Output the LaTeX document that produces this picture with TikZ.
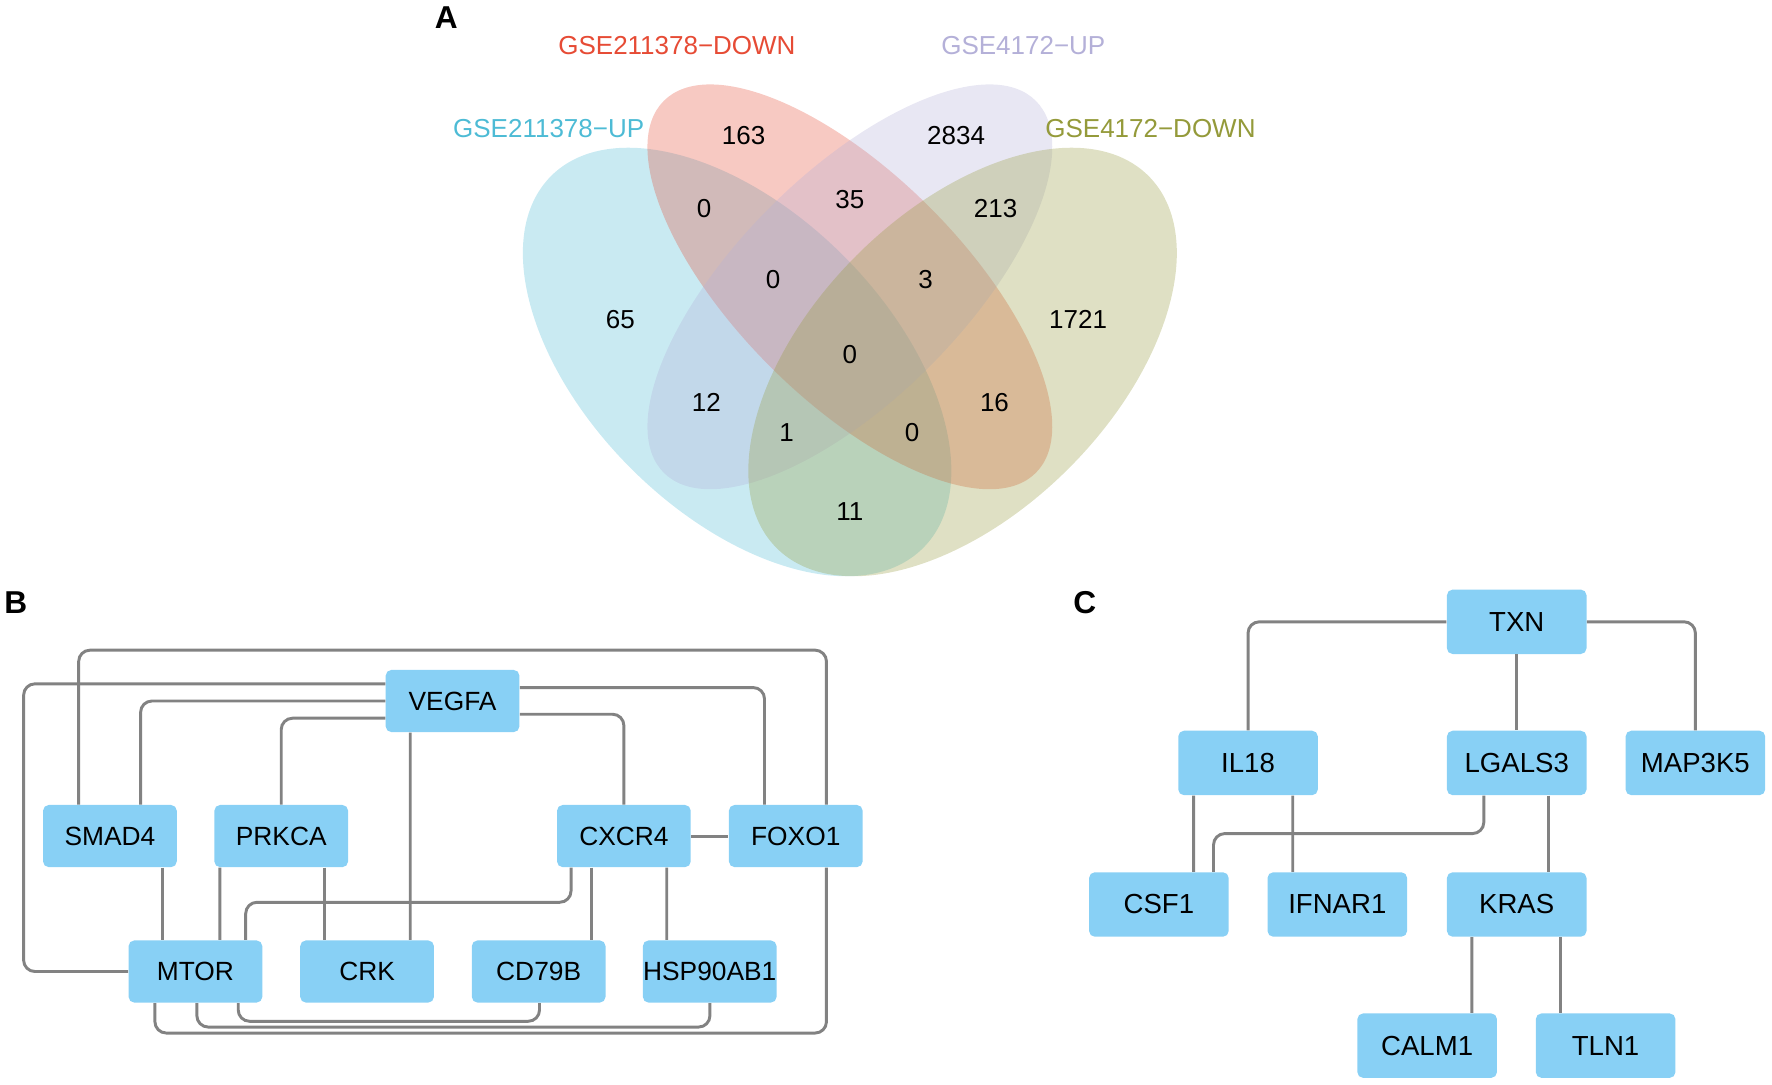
\documentclass[tikz,border=0pt]{standalone}
\usepackage{fontspec}
\setmainfont{Liberation Sans}
\usetikzlibrary{calc}
\definecolor{vblue}{HTML}{4DBBD5}
\definecolor{vred}{HTML}{E64B35}
\definecolor{vlav}{HTML}{B4B0D8}
\definecolor{volive}{HTML}{949A3A}
\definecolor{nodeblue}{RGB}{136,208,245}
\definecolor{edgegray}{RGB}{130,130,130}
\tikzset{
  vset/.style={fill opacity=0.3},
  vnum/.style={font=\fontsize{11.5}{13}\selectfont, text=black, inner sep=0pt},
  vlab/.style={font=\fontsize{11.5}{13}\selectfont, inner sep=0pt},
  panel/.style={font=\fontsize{14}{16}\selectfont\bfseries, inner sep=0pt},
  bnode/.style={rectangle, rounded corners=2.5pt, fill=nodeblue, minimum width=59.15pt, minimum height=27.5pt, inner sep=0pt, font=\fontsize{11.65}{13}\selectfont},
  cnode/.style={rectangle, rounded corners=2.5pt, fill=nodeblue, minimum width=61.75pt, minimum height=28.5pt, inner sep=0pt, font=\fontsize{12.2}{14}\selectfont},
  edge/.style={draw=edgegray, line width=1.3pt, rounded corners=5pt},
}
\begin{document}
\begin{tikzpicture}[x=0.5pt,y=-0.5pt]
\useasboundingbox (0,0) rectangle (1568,960);

% ---------- Panel A: Venn ----------
\fill[vblue, vset, rotate around={-45:(652.25,320.3)}] (652.25,320.3) ellipse [x radius=232.75, y radius=133];
\fill[vred, vset, rotate around={-45:(752,253.8)}] (752,253.8) ellipse [x radius=232.75, y radius=99.75];
\fill[vlav, vset, rotate around={45:(752,253.8)}] (752,253.8) ellipse [x radius=232.75, y radius=99.75];
\fill[volive, vset, rotate around={45:(851.75,320.3)}] (851.75,320.3) ellipse [x radius=232.75, y radius=133];

\node[panel] (labA) at (395,16) {A};
\node[vlab, text=vred] (l1) at (599,40.5) {GSE211378−DOWN};
\node[vlab, text=vlav] (l2) at (905.5,40.5) {GSE4172−UP};
\node[vlab, text=vblue] (l3) at (485.5,113.5) {GSE211378−UP};
\node[vlab, text=volive] (l4) at (1018,113.5) {GSE4172−DOWN};

\node[vnum] (n1) at (658,120.3) {163};
\node[vnum] (n2) at (846,120.3) {2834};
\node[vnum] (n3) at (623,184.7) {0};
\node[vnum] (n4) at (752,176.3) {35};
\node[vnum] (n5) at (881,184.7) {213};
\node[vnum] (n6) at (684,247.5) {0};
\node[vnum] (n7) at (819,247.5) {3};
\node[vnum] (n8) at (549,283) {65};
\node[vnum] (n9) at (954,283) {1721};
\node[vnum] (n10) at (752,313.6) {0};
\node[vnum] (n11) at (625,356) {12};
\node[vnum] (n12) at (880,356) {16};
\node[vnum] (n13) at (696,383) {1};
\node[vnum] (n14) at (807,383) {0};
\node[vnum] (n15) at (752,452.5) {11};

% ---------- Panel B ----------
\node[panel] (labB) at (14,533) {B};
\node[bnode] (vegfa) at (400.45,620.3) {VEGFA};
\node[bnode] (smad4) at (97.25,739.8) {SMAD4};
\node[bnode] (prkca) at (248.85,739.8) {PRKCA};
\node[bnode] (cxcr4) at (552.05,739.8) {CXCR4};
\node[bnode] (foxo1) at (704.15,739.8) {FOXO1};
\node[bnode] (mtor) at (172.95,859.65) {MTOR};
\node[bnode] (crk) at (324.8,859.65) {CRK};
\node[bnode] (cd79b) at (476.65,859.65) {CD79B};
\node[bnode] (hsp) at (628,859.65) {HSP90AB1};

\draw[edge] ($(smad4.north)+(-27.65,0)$) |- ($(foxo1.north)+(27.15,-136.6)$) -- ($(foxo1.north)+(27.15,0)$);
\draw[edge] ($(vegfa.west)+(0,-15.2)$) -| ($(mtor.west)+(-92.5,0)$) -- (mtor.west);
\draw[edge] (vegfa.west) -| ($(smad4.north)+(27.15,0)$);
\draw[edge] ($(vegfa.west)+(0,15.2)$) -| (prkca.north);
\draw[edge] ($(vegfa.south)+(-37.45,0)$) -- ($(crk.north)+(38.2,0)$);
\draw[edge] ($(vegfa.east)+(0,-11.9)$) -| ($(foxo1.north)+(-27.65,0)$);
\draw[edge] ($(vegfa.east)+(0,11.7)$) -| (cxcr4.north);
\draw[edge] (cxcr4.east) -- (foxo1.west);
\draw[edge] ($(smad4.south)+(46.45,0)$) -- ($(mtor.north)+(-29.25,0)$);
\draw[edge] ($(prkca.south)+(-54.35,0)$) -- ($(mtor.north)+(21.55,0)$);
\draw[edge] ($(prkca.south)+(38.65,0)$) -- ($(crk.north)+(-37.3,0)$);
\draw[edge] ($(cxcr4.south)+(-46.75,0)$) |- ($(mtor.north)+(44.45,-33.35)$) -- ($(mtor.north)+(44.45,0)$);
\draw[edge] ($(cxcr4.south)+(-29.05,0)$) -- ($(cd79b.north)+(46.35,0)$);
\draw[edge] ($(cxcr4.south)+(37.95,0)$) -- ($(hsp.north)+(-38,0)$);
\draw[edge] ($(mtor.south)+(37.85,0)$) |- ($(cd79b.south)+(0.75,16.15)$) -- ($(cd79b.south)+(0.75,0)$);
\draw[edge] ($(mtor.south)+(1.25,0)$) |- ($(hsp.south)+(0.2,21.25)$) -- ($(hsp.south)+(0.2,0)$);
\draw[edge] ($(mtor.south)+(-35.85,0)$) |- ($(foxo1.south)+(27.15,146.4)$) -- ($(foxo1.south)+(27.15,0)$);

% ---------- Panel C ----------
\node[panel] (labC) at (960,533) {C};
\node[cnode] (txn) at (1342.1,550.2) {TXN};
\node[cnode] (il18) at (1104.35,675.1) {IL18};
\node[cnode] (lgals3) at (1342.1,675.1) {LGALS3};
\node[cnode] (map3k5) at (1500.2,675.1) {MAP3K5};
\node[cnode] (csf1) at (1025.45,800.35) {CSF1};
\node[cnode] (ifnar1) at (1183.35,800.35) {IFNAR1};
\node[cnode] (kras) at (1342.1,800.35) {KRAS};
\node[cnode] (calm1) at (1262.85,925.25) {CALM1};
\node[cnode] (tln1) at (1420.75,925.25) {TLN1};

\draw[edge] (txn.west) -| (il18.north);
\draw[edge] (txn.south) -- (lgals3.north);
\draw[edge] (txn.east) -| (map3k5.north);
\draw[edge] ($(il18.south)+(-48.15,0)$) -- ($(csf1.north)+(30.75,0)$);
\draw[edge] ($(il18.south)+(39.55,0)$) -- ($(ifnar1.north)+(-39.45,0)$);
\draw[edge] ($(lgals3.south)+(-29.1,0)$) |- ($(csf1.north)+(48.35,-33.85)$) -- ($(csf1.north)+(48.35,0)$);
\draw[edge] ($(lgals3.south)+(28.3,0)$) -- ($(kras.north)+(28.3,0)$);
\draw[edge] ($(kras.south)+(-39.7,0)$) -- ($(calm1.north)+(39.55,0)$);
\draw[edge] ($(kras.south)+(38.5,0)$) -- ($(tln1.north)+(-40.15,0)$);
\end{tikzpicture}
\end{document}
